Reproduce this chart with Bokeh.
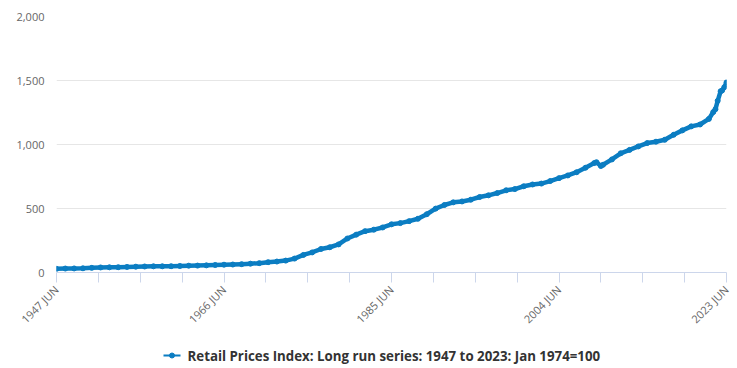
from bokeh.plotting import figure
from bokeh.models import ColumnDataSource, FixedTicker, Range1d, NumeralTickFormatter
from bokeh.core.properties import value
from bokeh.layouts import column
from bokeh.embed import file_html
from bokeh.resources import INLINE
import math

# ---- data (Retail Prices Index, Jan 1974 = 100) ----
periods = [
    "1947 JUN", "1948 JUN", "1949 JUN", "1950 JUN", "1951 JUN", "1952 JUN", "1953 JUN",
    "1954 JUN", "1955 JUN", "1956 JUN", "1957 JUN", "1958 JUN", "1959 JUN", "1960 JUN",
    "1961 JUN", "1962 JUN", "1963 JUN", "1964 JUN", "1965 JUN", "1966 JUN", "1967 JUN",
    "1968 JUN", "1969 JUN", "1970 JUN", "1971 JUN", "1972 JUN", "1973 JUN", "1974 JUN",
    "1975 JUN", "1976 JUN", "1977 JUN", "1978 JUN", "1979 JUN", "1980 JUN", "1981 JUN",
    "1982 JUN", "1983 JUN", "1984 JUN", "1985 JUN", "1986 JUN", "1987 JUN", "1988 JUN",
    "1989 JUN", "1990 JUN", "1991 JUN", "1992 JUN", "1993 JUN", "1994 JUN", "1995 JUN",
    "1996 JUN", "1997 JUN", "1998 JUN", "1999 JUN", "2000 JUN", "2001 JUN", "2002 JUN",
    "2003 JUN", "2004 JUN", "2005 JUN", "2006 JUN", "2007 JUN", "2008 JUN", "2008 SEP",
    "2009 MAR", "2009 JUN", "2010 JUN", "2011 JUN", "2012 JUN", "2013 JUN", "2014 JUN",
    "2015 JUN", "2016 JUN", "2017 JUN", "2018 JUN", "2019 JUN", "2020 JUN", "2021 JUN",
    "2021 DEC", "2022 MAR", "2022 JUN", "2022 OCT", "2022 DEC", "2023 MAR", "2023 JUN",
]
rpi = [
    28.5, 30.9, 31.7, 32.9, 36.2, 39.4, 40.6,
    41.2, 43.3, 45.4, 46.9, 48.4, 48.5, 49.1,
    50.8, 53.2, 53.9, 55.9, 58.7, 60.9, 62.3,
    65.2, 68.9, 73.0, 80.5, 85.6, 93.0, 108.7,
    137.1, 156.9, 183.6, 197.2, 219.6, 265.7, 295.8,
    322.9, 334.7, 351.9, 376.4, 385.8, 401.2, 419.9,
    455.2, 499.0, 527.4, 548.0, 555.1, 568.8, 589.7,
    603.0, 620.8, 642.1, 651.9, 673.7, 687.6, 694.6,
    714.5, 737.1, 758.2, 783.5, 818.3, 855.1, 861.6,
    832.0, 841.9, 883.3, 931.2, 957.7, 985.1, 1011.0,
    1021.8, 1036.9, 1075.8, 1110.4, 1141.7, 1156.4, 1199.9,
    1253.3, 1276.2, 1341.4, 1416.1, 1421.8, 1447.6, 1484.9,
]
tick_labels = ["1947 JUN", "1966 JUN", "1985 JUN", "2004 JUN", "2023 JUN"]
y_ticks = [0, 500, 1000, 1500, 2000]
series_name = "Retail Prices Index: Long run series: 1947 to 2023: Jan 1974=100"

MONTHS = ["JAN", "FEB", "MAR", "APR", "MAY", "JUN", "JUL", "AUG", "SEP", "OCT", "NOV", "DEC"]


def month_index(label):
    yr, mon = label.split()
    return (int(yr) - 1947) * 12 + MONTHS.index(mon) - 5


xs = [month_index(s) for s in periods]
src = ColumnDataSource(dict(x=xs, y=rpi, period=periods))

first = month_index(tick_labels[0])
last = month_index(tick_labels[-1])
step = (last - first) // 16
x_ticks = list(range(first, last + 1, step))
overrides = {t: "" for t in x_ticks}
for lab in tick_labels:
    overrides[month_index(lab)] = lab

FONT = "Open Sans"
COLOR = "#0b7dc2"
W = 737
BL, BR = 56, 11  # left / right borders around the plotting frame

p = figure(width=W, height=338, output_backend="svg", toolbar_location=None,
           x_range=Range1d(first, last), y_range=Range1d(0, 2000),
           min_border_left=BL, min_border_right=BR, min_border_top=16, min_border_bottom=66)
p.outline_line_color = None
p.background_fill_color = "white"

p.line("x", "y", source=src, line_color=COLOR, line_width=4.5,
       line_join="round", line_cap="round")
p.scatter("x", "y", source=src, size=5, fill_color=COLOR, line_color=COLOR)

# axes
xa = p.xaxis[0]
xa.ticker = FixedTicker(ticks=x_ticks)
xa.major_label_overrides = overrides
xa.major_label_orientation = math.pi / 4
xa.axis_line_color = "#ccd6eb"
xa.major_tick_line_color = "#ccd6eb"
xa.major_tick_out = 10
xa.major_tick_in = 0
xa.minor_tick_line_color = None
xa.major_label_text_font = FONT
xa.major_label_text_font_size = "11px"
xa.major_label_text_color = "#666666"
xa.major_label_standoff = 5

ya = p.yaxis[0]
ya.ticker = FixedTicker(ticks=y_ticks)
ya.formatter = NumeralTickFormatter(format="0,0")
ya.axis_line_color = None
ya.major_tick_line_color = None
ya.major_tick_out = 0
ya.major_tick_in = 0
ya.minor_tick_line_color = None
ya.major_label_text_font = FONT
ya.major_label_text_font_size = "11px"
ya.major_label_text_color = "#666666"
ya.major_label_standoff = 12

p.xgrid.grid_line_color = None
p.ygrid.ticker = FixedTicker(ticks=y_ticks)
p.ygrid.grid_line_color = "#e6e6e6"

# legend strip underneath (x in page pixels; frame aligned with the chart frame)
LH = 30
pl = figure(width=W, height=LH, output_backend="svg", toolbar_location=None,
            x_range=Range1d(BL, W - BR), y_range=Range1d(0, LH),
            x_axis_location=None, y_axis_location=None,
            min_border_left=BL, min_border_right=BR, min_border_top=0, min_border_bottom=0)
pl.grid.visible = False
pl.outline_line_color = None
sym_x0, sym_x1, sym_y = 163, 180, 13
pl.segment(x0=[sym_x0], y0=[sym_y], x1=[sym_x1], y1=[sym_y], line_color=COLOR, line_width=2)
pl.scatter(x=[(sym_x0 + sym_x1) / 2], y=[sym_y], size=5, fill_color=COLOR, line_color=COLOR)
pl.text(x=[187], y=[sym_y], text=[series_name], text_font=value(FONT),
        text_font_size="13.3px", text_font_style="bold", text_color="#333333",
        text_baseline="middle", text_align="left")

layout = column(p, pl, spacing=0)
open("out.html", "w").write(file_html(layout, INLINE))
